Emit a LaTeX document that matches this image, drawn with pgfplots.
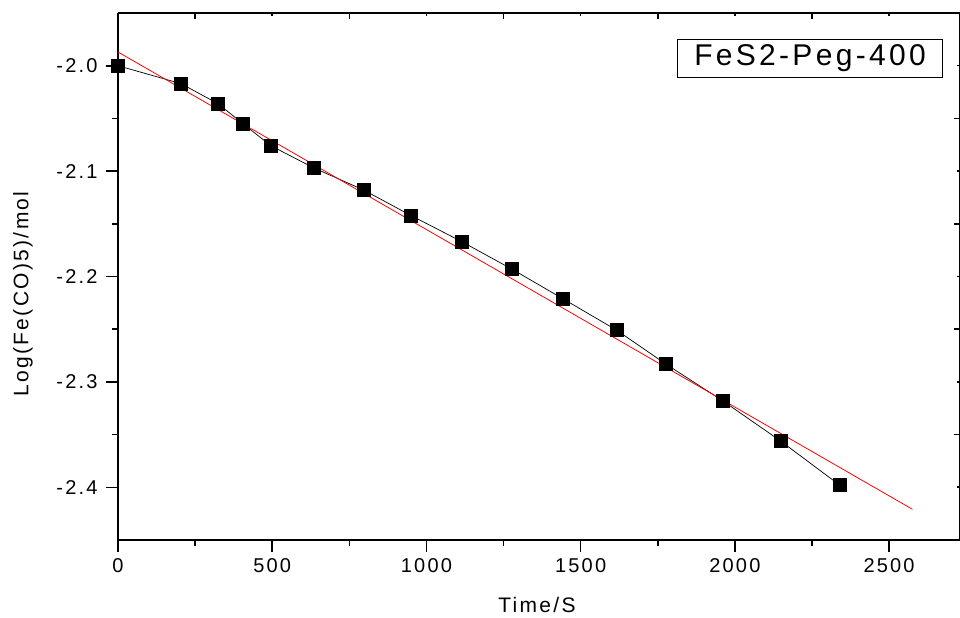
\documentclass[border=0pt]{standalone}
\usepackage{fontspec}
\setmainfont{Liberation Sans}[LetterSpace=11]
\usepackage{pgfplots}
\pgfplotsset{compat=1.18}
\begin{document}
\begin{tikzpicture}
\path[use as bounding box] (0,0) rectangle (960bp,618bp);
\begin{axis}[at={(118bp,78bp)}, anchor=south west, scale only axis,
  width=842bp, height=527bp,
  xmin=0, xmax=2730, ymin=-2.45, ymax=-1.95,
  axis x line*=top, axis y line*=right,
  tick align=inside,
  xtick={250,750,1250,1750,2250}, minor xtick={0,500,1000,1500,2000,2500},
  ytick={-2.35,-2.25,-2.15,-2.05}, minor ytick={-2.4,-2.3,-2.2,-2.1,-2.0},
  xticklabels={}, yticklabels={},
  major tick length=6bp, minor tick length=3bp,
  axis line style={line width=1.6bp},
  every tick/.style={black, line width=1.6bp},
]
\end{axis}
\begin{axis}[at={(118bp,78bp)}, anchor=south west, scale only axis,
  width=842bp, height=527bp,
  xmin=0, xmax=2730, ymin=-2.45, ymax=-1.95,
  axis x line*=bottom, axis y line*=left,
  tick align=outside,
  xtick={0,500,1000,1500,2000,2500}, minor x tick num=1,
  ytick={-2.4,-2.3,-2.2,-2.1,-2.0}, minor y tick num=1,
  major tick length=12bp, minor tick length=6bp,
  axis line style={line width=1.6bp},
  every tick/.style={black, line width=1.6bp},
  /pgf/number format/assume math mode=true,
  /pgf/number format/set thousands separator={},
  xticklabel style={font=\fontsize{20bp}{24bp}\selectfont, yshift=-3bp},
  yticklabel style={font=\fontsize{20bp}{24bp}\selectfont, xshift=-5bp, /pgf/number format/.cd, fixed, fixed zerofill, precision=1},
  scaled ticks=false,
  xlabel={Time/S}, ylabel={Log(Fe(CO)5)/mol},
  xlabel style={font=\fontsize{21bp}{25bp}\selectfont, at={(axis description cs:0.4976,-0.123)}, anchor=center},
  ylabel style={font=\fontsize{21bp}{25bp}\selectfont, at={(axis description cs:-0.1128,0.467)}, anchor=center},
  clip=false,
]
\addplot[black, line width=0.7bp, mark=square*, mark size=6.5bp, mark options={solid, fill=black}] coordinates {
(0,-2.000) (204,-2.017) (324,-2.036) (405,-2.055) (496,-2.076) (635,-2.097)
(797,-2.118) (949,-2.142) (1115,-2.167) (1277,-2.193) (1442,-2.221) (1617,-2.251)
(1776,-2.283) (1961,-2.318) (2148,-2.356) (2340,-2.398)};
\addplot[red, line width=0.8bp] coordinates {(0,-1.987) (2576,-2.4209)};
\end{axis}
\node[draw, line width=0.9bp, minimum width=265bp, minimum height=38bp, inner sep=0pt, font=\fontsize{30bp}{36bp}\selectfont] at (810bp,560bp) {FeS2-Peg-400};
\end{tikzpicture}
\end{document}
